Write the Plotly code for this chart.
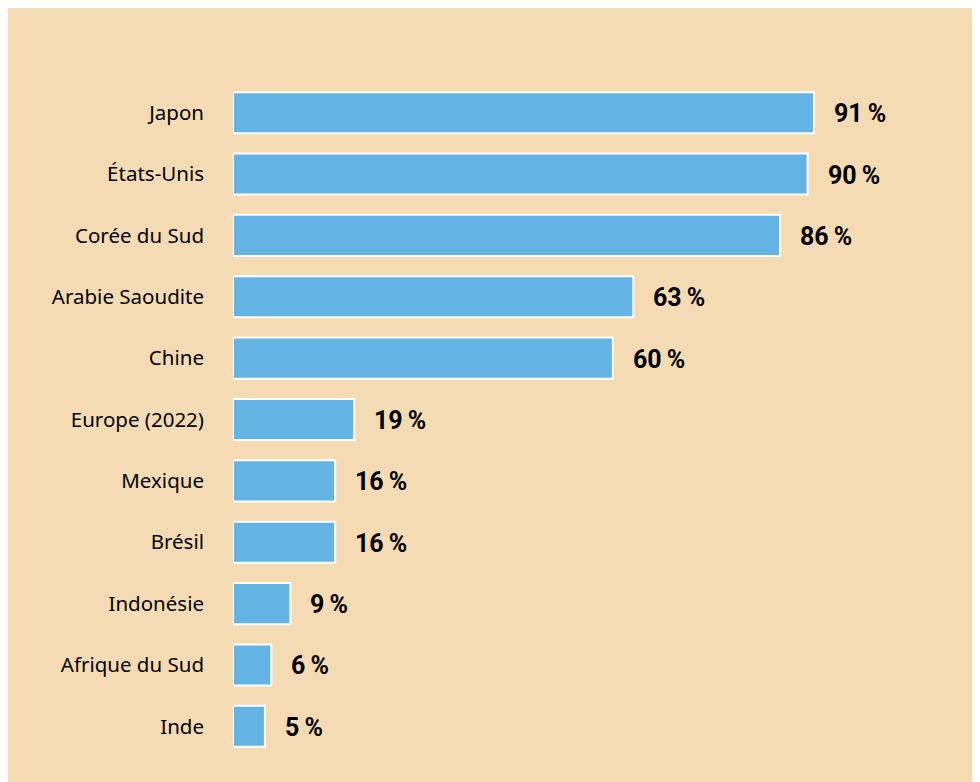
import plotly.graph_objects as go

countries = ["Japon", "États-Unis", "Corée du Sud", "Arabie Saoudite", "Chine",
             "Europe (2022)", "Mexique", "Brésil", "Indonésie", "Afrique du Sud", "Inde"]
shares = [91, 90, 85.7, 62.7, 59.5, 19, 16, 16, 9, 6, 5]
share_labels = ["91\u2009%", "90\u2009%", "86\u2009%", "63\u2009%", "60\u2009%", "19\u2009%",
                "16\u2009%", "16\u2009%", "9\u2009%", "6\u2009%", "5\u2009%"]

BEIGE = "#f5dbb3"
BLUE = "#63b4e5"

fig = go.Figure()
fig.add_trace(go.Bar(
    x=shares, y=countries, orientation="h",
    marker=dict(color=BLUE, line=dict(color="white", width=2)),
    hoverinfo="skip",
))

for c, v, lab in zip(countries, shares, share_labels):
    fig.add_annotation(x=v, y=c, text=lab, showarrow=False,
                       xanchor="left", xshift=18, yshift=-1,
                       font=dict(family="Roboto", size=25, color="black", weight="bold"))

fig.update_layout(
    width=980, height=782,
    margin=dict(l=225, r=8, t=74, b=33),
    paper_bgcolor=BEIGE, plot_bgcolor=BEIGE,
    bargap=0.33, showlegend=False,
    xaxis=dict(range=[0, 117], visible=False),
    yaxis=dict(autorange="reversed", showgrid=False, zeroline=False, showline=False,
               ticks="", ticklabelstandoff=28,
               tickfont=dict(family="Noto Sans", size=20.5, color="black")),
)

fig.write_html("out.html")
